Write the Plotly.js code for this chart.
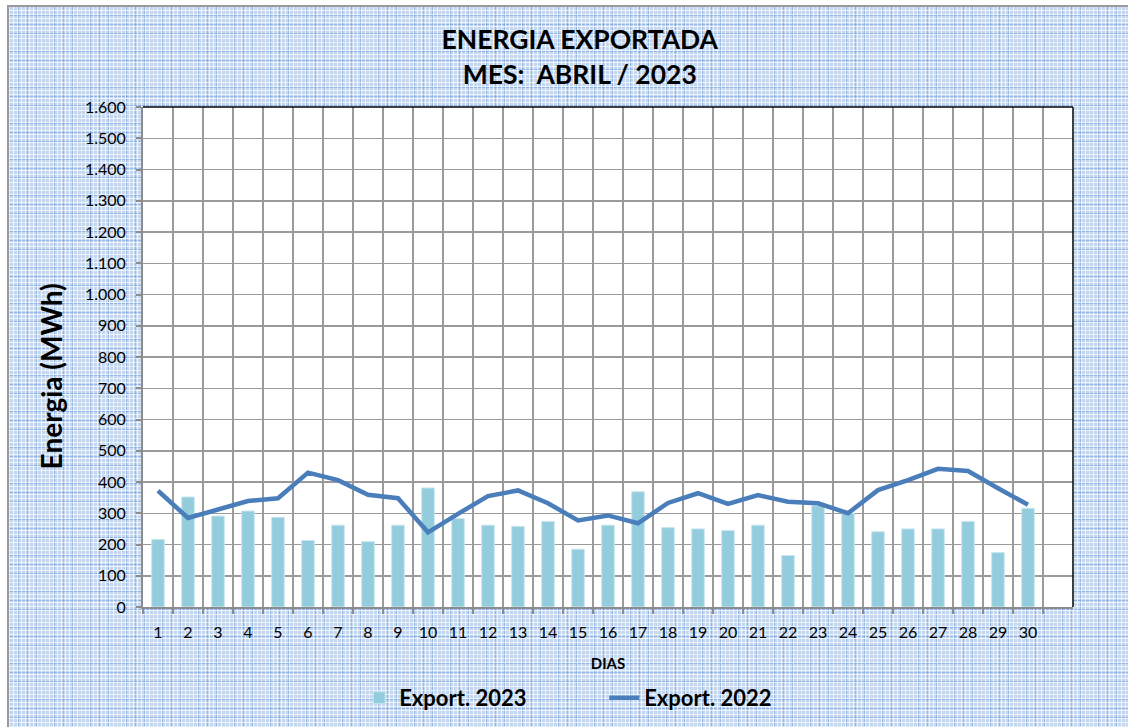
<!DOCTYPE html>
<html>
<head>
<meta charset="utf-8">
<script src="https://cdn.plot.ly/plotly-3.0.1.min.js"></script>
<style>
  html, body { margin: 0; padding: 0; width: 1128px; height: 727px; overflow: hidden; background: #ffffff; }
  #bgpat {
    position: absolute; left: 7px; top: 5px; width: 1121px; height: 722px;
    border-left: 2px solid #9a9a9a; border-top: 2px solid #9a9a9a; box-sizing: border-box;
    background-color: #c5d7ee;
    background-image:
      repeating-linear-gradient(90deg, rgba(255,255,255,0.7) 0px, rgba(255,255,255,0.7) 1px, transparent 1px, transparent 4px),
      repeating-linear-gradient(0deg, rgba(255,255,255,0.7) 0px, rgba(255,255,255,0.7) 1px, transparent 1px, transparent 4px),
      repeating-linear-gradient(90deg, rgba(100,145,210,0.5) 0px, rgba(100,145,210,0.5) 1px, transparent 1px, transparent 9px),
      repeating-linear-gradient(0deg, rgba(100,145,210,0.5) 0px, rgba(100,145,210,0.5) 1px, transparent 1px, transparent 9px);
  }
  #chart { position: absolute; left: 0; top: 0; width: 1128px; height: 727px; }
</style>
</head>
<body>
<div id="bgpat"></div>
<div id="chart"></div>
<script>
// Days of April 2023 (category labels)
const days = ['1','2','3','4','5','6','7','8','9','10','11','12','13','14','15','16','17','18','19','20','21','22','23','24','25','26','27','28','29','30'];
// Export 2023 (MWh) - bars
const export2023 = [216,352,291,307,287,213,262,209,262,381,283,262,258,274,185,262,369,254,250,245,262,165,324,300,241,250,250,274,174,316];
// Export 2022 (MWh) - line
const export2022 = [372,285,312,339,348,430,406,359,348,239,298,355,373,332,277,293,268,333,364,330,358,337,332,300,374,406,442,435,380,327];

const fontFam = 'Lato, "Open Sans", "Noto Sans", sans-serif';

const traces = [
  {
    type: 'bar', name: 'Export. 2023', x: days, y: export2023,
    width: 0.42,
    marker: { color: '#93cddd', line: { color: '#c8e6ee', width: 1 } },
    hoverinfo: 'x+y'
  },
  {
    type: 'scatter', mode: 'lines', name: 'Export. 2022', x: days, y: export2022,
    line: { color: '#4a7ebb', width: 4.5 },
    hoverinfo: 'x+y'
  }
];

const layout = {
  width: 1128, height: 727,
  paper_bgcolor: 'rgba(0,0,0,0)',
  plot_bgcolor: '#ffffff',
  separators: ',.',
  margin: { l: 143, r: 55, t: 107, b: 120 },
  font: { family: fontFam, color: '#000000', size: 16 },
  title: {
    text: '<b>ENERGIA EXPORTADA</b><br><b>MES:  ABRIL / 2023</b>',
    x: 0.514, xanchor: 'center', xref: 'container',
    y: 0.932, yanchor: 'middle', yref: 'container',
    font: { family: fontFam, size: 26.5, color: '#000000' }
  },
  xaxis: {
    type: 'category', range: [-0.5, 30.5], automargin: false,
    tickson: 'boundaries', ticks: 'outside', ticklen: 5, tickwidth: 2, tickcolor: '#8c8c8c',
    showgrid: true, gridcolor: '#9a9a9a', gridwidth: 1.5, zeroline: false,
    showline: true, linecolor: '#8c8c8c', linewidth: 2,
    ticklabelstandoff: 10,
    tickfont: { family: fontFam, size: 16, color: '#000000' },
    title: { text: '<b>DIAS</b>', font: { family: fontFam, size: 15, color: '#000000' }, standoff: 18 }
  },
  yaxis: {
    range: [0, 1600], dtick: 100, tick0: 0, tickformat: ',d', automargin: false,
    showgrid: true, gridcolor: '#9a9a9a', gridwidth: 1.5, zeroline: false,
    showline: true, linecolor: '#8c8c8c', linewidth: 2,
    ticks: 'outside', ticklen: 5, tickwidth: 2, tickcolor: '#8c8c8c',
    ticklabelstandoff: 7,
    tickfont: { family: fontFam, size: 16, color: '#000000' }
  },
  annotations: [
    {
      text: '<b>Energia (MWh)</b>', textangle: -90,
      xref: 'paper', yref: 'paper', x: -0.0985, y: 0.462,
      xanchor: 'center', yanchor: 'middle', showarrow: false,
      font: { family: fontFam, size: 28, color: '#000000' }
    }
  ],
  showlegend: true,
  legend: {
    orientation: 'h', x: 0.2325, xanchor: 'left',
    yref: 'container', y: 0.04, yanchor: 'middle',
    bgcolor: 'rgba(0,0,0,0)', entrywidth: 200, entrywidthmode: 'pixels',
    font: { family: fontFam, size: 22, color: '#000000', weight: 'bold' },
    traceorder: 'normal'
  },
  shapes: [
    { type: 'line', xref: 'paper', yref: 'paper', x0: 0, x1: 1, y0: 1, y1: 1, line: { color: '#000000', width: 1.5 } },
    { type: 'line', xref: 'paper', yref: 'paper', x0: 1, x1: 1, y0: 0, y1: 1, line: { color: '#000000', width: 1.5 } }
  ],
  bargap: 0.58
};

Plotly.newPlot('chart', traces, layout, { displayModeBar: false, staticPlot: true });
</script>
</body>
</html>
